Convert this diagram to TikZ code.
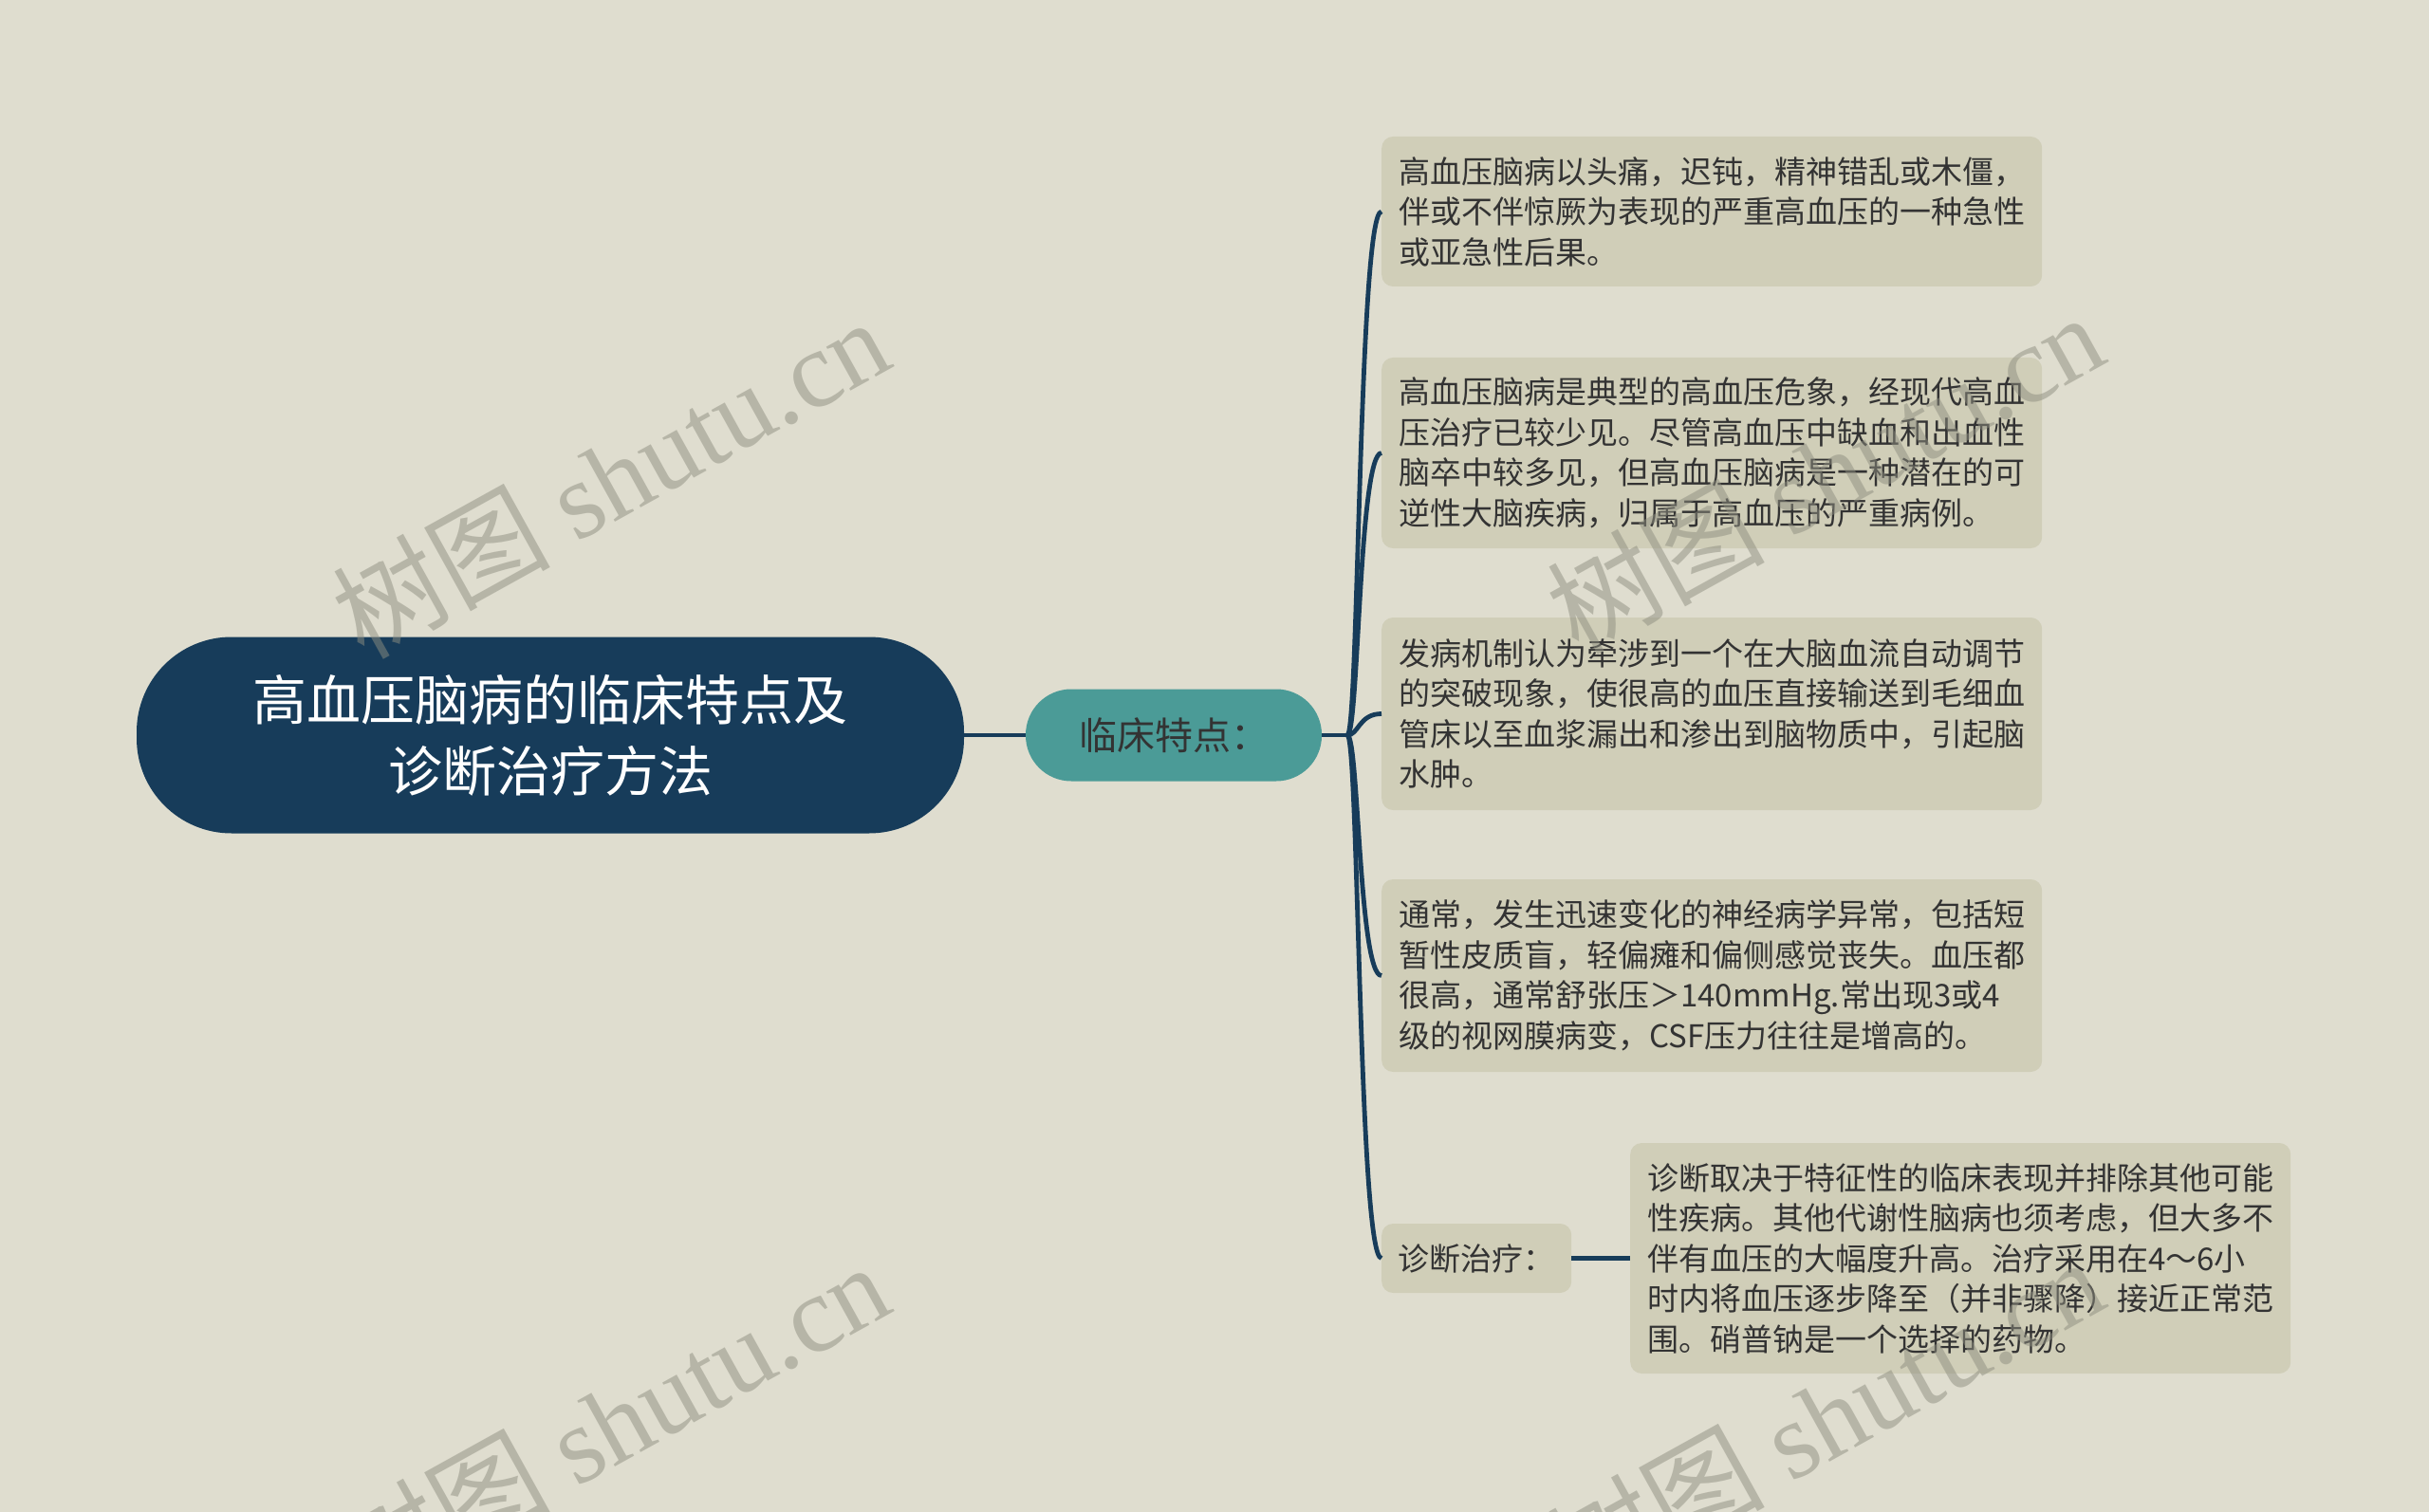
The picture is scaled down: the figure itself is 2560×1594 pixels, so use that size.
\documentclass[tikz,border=0pt]{standalone}
\usepackage{fontspec}
\setmainfont{Noto Sans CJK SC}
\newfontfamily\wmserif{Liberation Serif}
\definecolor{bgc}{HTML}{DFDDCF}
\definecolor{navy}{HTML}{173C5A}
\definecolor{tealnode}{HTML}{4B9B97}
\definecolor{boxfill}{HTML}{D0CEB8}
\definecolor{txt}{HTML}{333333}
\definecolor{wmc}{HTML}{8E8E80}
\tikzset{
  rootbox/.style={fill=navy, text=white, rounded corners=100pt, minimum width=872pt, minimum height=207pt,
    align=center, inner sep=0pt, font=\fontsize{57}{75}\selectfont},
  midbox/.style={fill=tealnode, text=txt, rounded corners=48pt, minimum width=312pt, minimum height=97pt,
    inner sep=0pt, font=\fontsize{40}{48}\selectfont},
  leafbox/.style={fill=boxfill, text=txt, rounded corners=12pt, anchor=west, text width=660pt,
    inner xsep=18pt, inner ysep=0pt, align=left, font=\fontsize{33}{42.5}\selectfont},
  smallbox/.style={fill=boxfill, text=txt, rounded corners=12pt, anchor=west, minimum width=200pt,
    minimum height=73pt, inner sep=0pt, font=\fontsize{33}{42.5}\selectfont},
  edge/.style={draw=navy, line width=4.8pt},
  wmark/.style={text=wmc, text opacity=0.5, font=\fontsize{115}{115}\selectfont, rotate=29, inner sep=0pt}
}
\begin{document}
\begin{tikzpicture}[x=1pt,y=-1pt]
\fill[bgc] (0,0) rectangle (2560,1594);
\useasboundingbox (0,0) rectangle (2560,1594);
\clip (0,0) rectangle (2560,1594);

\node[rootbox] (root) at (580,775) {高血压脑病的临床特点及\\诊断治疗方法};
\node[midbox] (lc) at (1237,775) {临床特点：};
\coordinate (hub) at (1420,775);

\node[leafbox, minimum height=158pt] (b1) at (1456,223) {高血压脑病以头痛，迟钝，精神错乱或木僵，\\伴或不伴惊厥为表现的严重高血压的一种急性\\或亚急性后果。};
\node[leafbox, minimum height=201pt] (b2) at (1456,477.5) {高血压脑病是典型的高血压危象，经现代高血\\压治疗已较少见。尽管高血压中缺血和出血性\\脑卒中较多见，但高血压脑病是一种潜在的可\\逆性大脑疾病，归属于高血压的严重病例。};
\node[leafbox, minimum height=203pt] (b3) at (1456,752.5) {发病机制认为牵涉到一个在大脑血流自动调节\\的突破现象，使很高的血压直接输送到毛细血\\管床以至血浆漏出和渗出到脑物质中，引起脑\\水肿。};
\node[leafbox, minimum height=203pt] (b4) at (1456,1028.5) {通常，发生迅速变化的神经病学异常，包括短\\暂性皮质盲，轻偏瘫和偏侧感觉丧失。血压都\\很高，通常舒张压＞140mmHg.常出现3或4\\级的视网膜病变，CSF压力往往是增高的。};
\node[smallbox] (dg) at (1456,1326.5) {诊断治疗：};
\node[leafbox, minimum height=243pt] (b5) at (1718,1326.5) {诊断取决于特征性的临床表现并排除其他可能\\性疾病。其他代谢性脑病也须考虑，但大多不\\伴有血压的大幅度升高。治疗采用在4～6小\\时内将血压逐步降至（并非骤降）接近正常范\\围。硝普钠是一个选择的药物。};

\draw[edge] (root.east) -- (lc.west);
\draw[edge] (lc.east) -- (hub);
\foreach \b in {b1,b2,b3,b4,dg}{
  \draw[edge] (hub) .. controls +(12,0) and ([xshift=-24pt]\b.west) .. (\b.west);
}
\draw[edge] (dg.east) -- (b5.west);

\node[wmark] (w1) at (643,503) {树图 {\wmserif shutu.cn}};
\node[wmark] (w2) at (1923,498) {树图 {\wmserif shutu.cn}};
\node[wmark] (w3) at (643,1499) {树图 {\wmserif shutu.cn}};
\node[wmark] (w4) at (1923,1494) {树图 {\wmserif shutu.cn}};
\end{tikzpicture}
\end{document}
